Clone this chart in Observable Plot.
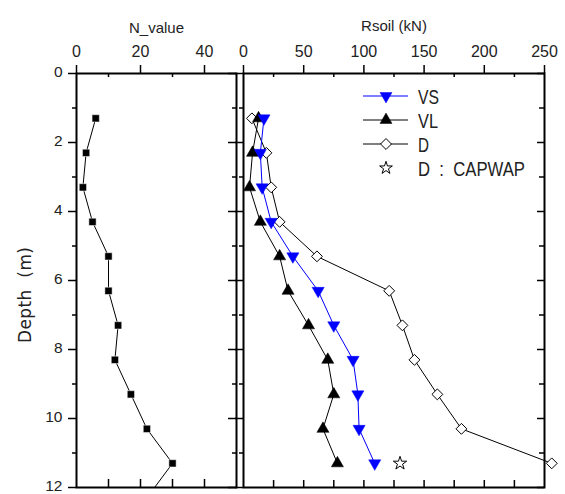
<!DOCTYPE html>
<html><head><meta charset="utf-8">
<script src="https://cdn.jsdelivr.net/npm/d3@7"></script>
<script src="https://cdn.jsdelivr.net/npm/@observablehq/plot@0.6"></script>
<style>
body{margin:0;background:#fff;}
#wrap{position:relative;width:565px;height:494px;overflow:hidden;font-family:"Liberation Sans",Arial,sans-serif;}
#wrap svg{position:absolute;left:0;top:0;background:transparent;overflow:visible;}
</style></head><body><div id="wrap"></div>
<script>
// ---- data ----
const depths = [1.3, 2.3, 3.3, 4.3, 5.3, 6.3, 7.3, 8.3, 9.3, 10.3, 11.3];
const nDepths = [1.3, 2.3, 3.3, 4.3, 5.3, 6.3, 7.3, 8.3, 9.3, 10.3, 11.3, 12.3];
const nValues = [6, 3, 2, 5, 10, 10, 13, 12, 17, 22, 30, 22];
const vsValues = [17, 14, 15.5, 23, 41, 62, 75, 91, 95, 96, 109];
const vlValues = [12.5, 7.5, 5, 14, 30, 37, 54, 70, 75, 66, 78];
const dValues = [7, 19, 23, 30, 61, 121, 132, 142, 161, 181, 256];
const capwapDepth = [11.3];
const capwapValue = [130];
const nTicks = [0, 20, 40];
const nMinor = [10, 30];
const nBottom = [10, 20, 30, 40];
const rTicks = [0, 50, 100, 150, 200, 250];
const rMinor = [25, 75, 125, 175, 225];
const depthTicks = [0, 2, 4, 6, 8, 10, 12];
const depthMinor = [1, 3, 5, 7, 9, 11];
const legendLabels = ["VS", "VL", "D", "D  :  CAPWAP"];

const W = 565, H = 494, MT = 73, MB = 7;
const FH = H - MT - MB;
const wrap = document.getElementById("wrap");
const nData = nDepths.map((d, i) => ({depth: d, v: nValues[i]}));
const mk = arr => depths.map((d, i) => ({depth: d, v: arr[i]}));
const vs = mk(vsValues), vl = mk(vlValues), dd = mk(dValues);
const cap = capwapDepth.map((d, i) => ({depth: d, v: capwapValue[i]}));

function topTicks(vals, len, outward) {
  return outward ? Plot.ruleX(vals, {insetTop: -len, insetBottom: FH, strokeWidth: 1.5})
                 : Plot.ruleX(vals, {insetTop: 0, insetBottom: FH - len, strokeWidth: 1.5});
}
function bottomTicks(vals, len) {
  return Plot.ruleX(vals, {insetTop: FH - len, insetBottom: 0, strokeWidth: 1.5});
}
function sideTicks(vals, len, side, outward, FW) {
  if (side === "left") {
    return outward ? Plot.ruleY(vals, {insetLeft: -len, insetRight: FW, strokeWidth: 1.5})
                   : Plot.ruleY(vals, {insetLeft: 0, insetRight: FW - len, strokeWidth: 1.5});
  } else {
    return outward ? Plot.ruleY(vals, {insetLeft: FW, insetRight: -len, strokeWidth: 1.5})
                   : Plot.ruleY(vals, {insetLeft: FW - len, insetRight: 0, strokeWidth: 1.5});
  }
}

// ---- left panel ----
const L0 = 76, L1 = 236, LW = L1 - L0;
const left = Plot.plot({
  width: W, height: H, marginLeft: L0, marginRight: W - L1, marginTop: MT, marginBottom: MB,
  style: {fontFamily: "Liberation Sans, Arial, sans-serif", fontSize: "16px", background: "transparent", overflow: "visible"},
  x: {domain: [0, 50], axis: null},
  y: {domain: [0, 12], reverse: true, axis: null},
  marks: [
    Plot.frame({strokeWidth: 2}),
    topTicks(nTicks, 8, true),
    topTicks(nMinor, 4, false),
    bottomTicks(nBottom, 8),
    sideTicks(depthTicks, 8, "left", true, LW),
    sideTicks(depthMinor, 4, "left", true, LW),
    sideTicks(depthTicks, 8, "right", false, LW),
    sideTicks(depthMinor, 4, "right", false, LW),
    Plot.axisX(nTicks, {anchor: "top", tickSize: 0, tickPadding: 17, fontSize: 16, label: null, fill: "#222"}),
    Plot.axisY(depthTicks, {anchor: "left", tickSize: 0, tickPadding: 14, fontSize: 15.5, label: null, fill: "#222", dy: -1}),
    Plot.text(["N_value"], {frameAnchor: "top", dy: -51, fontSize: 15, fill: "#222"}),
    Plot.line(nData, {x: "v", y: "depth", stroke: "black", strokeWidth: 1, clip: "frame"}),
    Plot.dot(nData.filter(d => d.depth <= 12), {x: "v", y: "depth", symbol: "square", r: 4.1, fill: "black", stroke: "white", strokeWidth: 0.5})
  ]
});
wrap.appendChild(left);

// ---- right panel ----
const R0 = 243, R1 = 544, RW = R1 - R0;
const right = Plot.plot({
  width: W, height: H, marginLeft: R0, marginRight: W - R1, marginTop: MT, marginBottom: MB,
  style: {fontFamily: "Liberation Sans, Arial, sans-serif", fontSize: "16px", background: "transparent", overflow: "visible"},
  x: {domain: [0, 250], axis: null},
  y: {domain: [0, 12], reverse: true, axis: null},
  marks: [
    Plot.frame({strokeWidth: 2}),
    topTicks(rTicks, 8, true),
    topTicks(rMinor, 4, false),
    bottomTicks(rMinor.concat(rTicks.slice(1, -1)), 7),
    sideTicks(depthTicks, 8, "left", true, RW),
    sideTicks(depthMinor, 4, "left", true, RW),
    sideTicks(depthTicks, 7, "right", false, RW),
    sideTicks(depthMinor, 5, "right", false, RW),
    Plot.axisX(rTicks, {anchor: "top", tickSize: 0, tickPadding: 17, fontSize: 16, label: null, fill: "#222"}),
    Plot.text(["Rsoil (kN)"], {frameAnchor: "top", dy: -53, fontSize: 15, fill: "#222"}),
    Plot.line(dd, {x: "v", y: "depth", stroke: "black", strokeWidth: 1}),
    Plot.line(vl, {x: "v", y: "depth", stroke: "black", strokeWidth: 1}),
    Plot.line(vs, {x: "v", y: "depth", stroke: "#0000ff", strokeWidth: 1}),
    Plot.dot(dd, {x: "v", y: "depth", symbol: "diamond2", r: 4.9, fill: "white", stroke: "black", strokeWidth: 1}),
    Plot.dot(vl, {x: "v", y: "depth", symbol: "triangle", r: 4.5, fill: "black", stroke: "black", strokeWidth: 0.5}),
    Plot.dot(vs, {x: "v", y: "depth", symbol: "triangle", rotate: 180, r: 4.5, fill: "#0000ff", stroke: "#0000ff", strokeWidth: 0.5}),
    Plot.dot(cap, {x: "v", y: "depth", symbol: "star", r: 4.2, fill: "white", stroke: "black", strokeWidth: 1})
  ]
});
wrap.appendChild(right);

// ---- legend & y title ----
const lg = d3.select(wrap).append("svg").attr("width", W).attr("height", H);
lg.append("text").attr("transform", "translate(25,295) rotate(-90)").attr("text-anchor", "middle").attr("dy", "0.36em")
  .attr("font-family", "DejaVu Sans, sans-serif").attr("font-size", 17).attr("fill", "#222")
  .attr("textLength", 96).attr("lengthAdjust", "spacing").style("white-space", "pre").text("Depth  (m)");
const rows = [
  {label: legendLabels[0], color: "#0000ff", sym: d3.symbolTriangle, rot: 180, fill: "#0000ff", line: true, size: 62, w: 21},
  {label: legendLabels[1], color: "black", sym: d3.symbolTriangle, rot: 0, fill: "black", line: true, size: 62, w: 20},
  {label: legendLabels[2], color: "black", sym: d3.symbolDiamond2, rot: 0, fill: "white", line: true, size: 76, w: 11},
  {label: legendLabels[3], color: "black", sym: d3.symbolStar, rot: 0, fill: "white", line: false, size: 50, w: 107}
];
rows.forEach((r, i) => {
  const y = 96 + i * 24;
  if (r.line) lg.append("line").attr("x1", 363).attr("x2", 408).attr("y1", y).attr("y2", y).attr("stroke", r.color).attr("stroke-width", 1);
  lg.append("path").attr("d", d3.symbol(r.sym, r.size)()).attr("transform", `translate(386,${y}) rotate(${r.rot})`)
    .attr("fill", r.fill).attr("stroke", r.color).attr("stroke-width", r.fill === "white" ? 1 : 0.5);
  lg.append("text").attr("x", 418).attr("y", y).attr("dy", "0.36em").attr("font-size", 21)
    .attr("font-family", "Liberation Sans, sans-serif").attr("fill", "#222")
    .attr("textLength", r.w).attr("lengthAdjust", "spacingAndGlyphs")
    .style("white-space", "pre").text(r.label);
});
</script></body></html>
